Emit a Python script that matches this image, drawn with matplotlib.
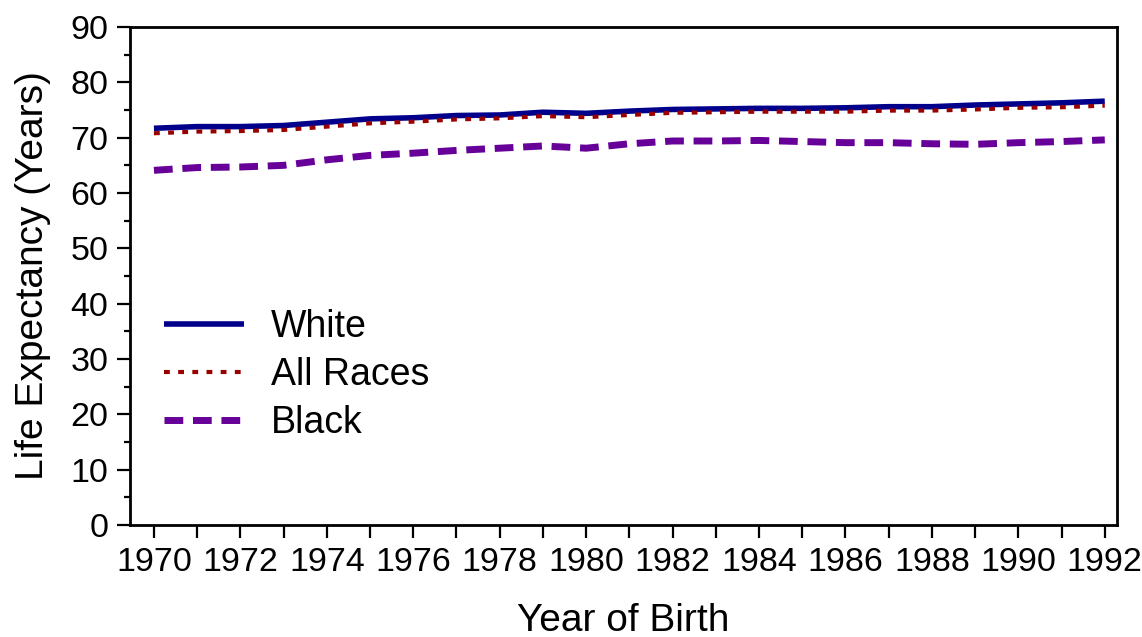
import matplotlib
matplotlib.use("Agg")
import matplotlib.pyplot as plt
from matplotlib.ticker import MultipleLocator

plt.rcParams['font.family'] = ['Liberation Sans', 'DejaVu Sans']

years = list(range(1970, 1993))
white = [71.7, 72.0, 72.0, 72.2, 72.8, 73.4, 73.6, 74.0, 74.1, 74.6, 74.4, 74.8,
         75.1, 75.2, 75.3, 75.3, 75.4, 75.6, 75.6, 75.9, 76.1, 76.3, 76.6]
all_races = [70.8, 71.1, 71.2, 71.4, 72.0, 72.6, 72.9, 73.3, 73.5, 73.9, 73.7, 74.1,
             74.5, 74.6, 74.7, 74.7, 74.7, 74.9, 74.9, 75.1, 75.4, 75.5, 75.8]
black = [64.1, 64.6, 64.7, 65.0, 66.0, 66.8, 67.2, 67.7, 68.1, 68.5, 68.1, 68.9,
         69.4, 69.4, 69.5, 69.3, 69.1, 69.1, 68.9, 68.8, 69.1, 69.3, 69.6]

fig = plt.figure(figsize=(11.42, 6.37), dpi=100)
ax = fig.add_axes([0.1138, 0.1758, 0.8642, 0.7818])

ax.plot(years, white, color='#00008B', lw=4, label='White', solid_capstyle='butt')
ax.plot(years, all_races, color='#990000', lw=3, linestyle=(0, (1.4, 2.0)), label='All Races')
ax.plot(years, black, color='#660099', lw=5, linestyle=(0, (2.7, 1.4)), label='Black')

ax.set_xlim(1969.445, 1992.28)
ax.set_ylim(0, 90)
ax.xaxis.set_major_locator(MultipleLocator(2))
ax.xaxis.set_minor_locator(MultipleLocator(1))
ax.yaxis.set_major_locator(MultipleLocator(10))
ax.yaxis.set_minor_locator(MultipleLocator(5))

for s in ax.spines.values():
    s.set_linewidth(2)
ax.tick_params(axis='both', which='major', direction='out', length=9.5, width=1.6,
               labelsize=24.5, pad=6)
ax.tick_params(axis='x', which='minor', direction='out', length=9.5, width=1.6)
ax.tick_params(axis='y', which='minor', direction='out', length=4.5, width=1.6)

ax.set_xlabel('Year of Birth', fontsize=28, labelpad=18)
ax.set_ylabel('Life Expectancy (Years)', fontsize=28, labelpad=14)

leg = ax.legend(loc='center left', bbox_to_anchor=(0.015, 0.301), frameon=False,
                fontsize=27, handlelength=2.15, handletextpad=0.72,
                labelspacing=0.33, borderpad=0)

fig.savefig('out.png', dpi=100)
